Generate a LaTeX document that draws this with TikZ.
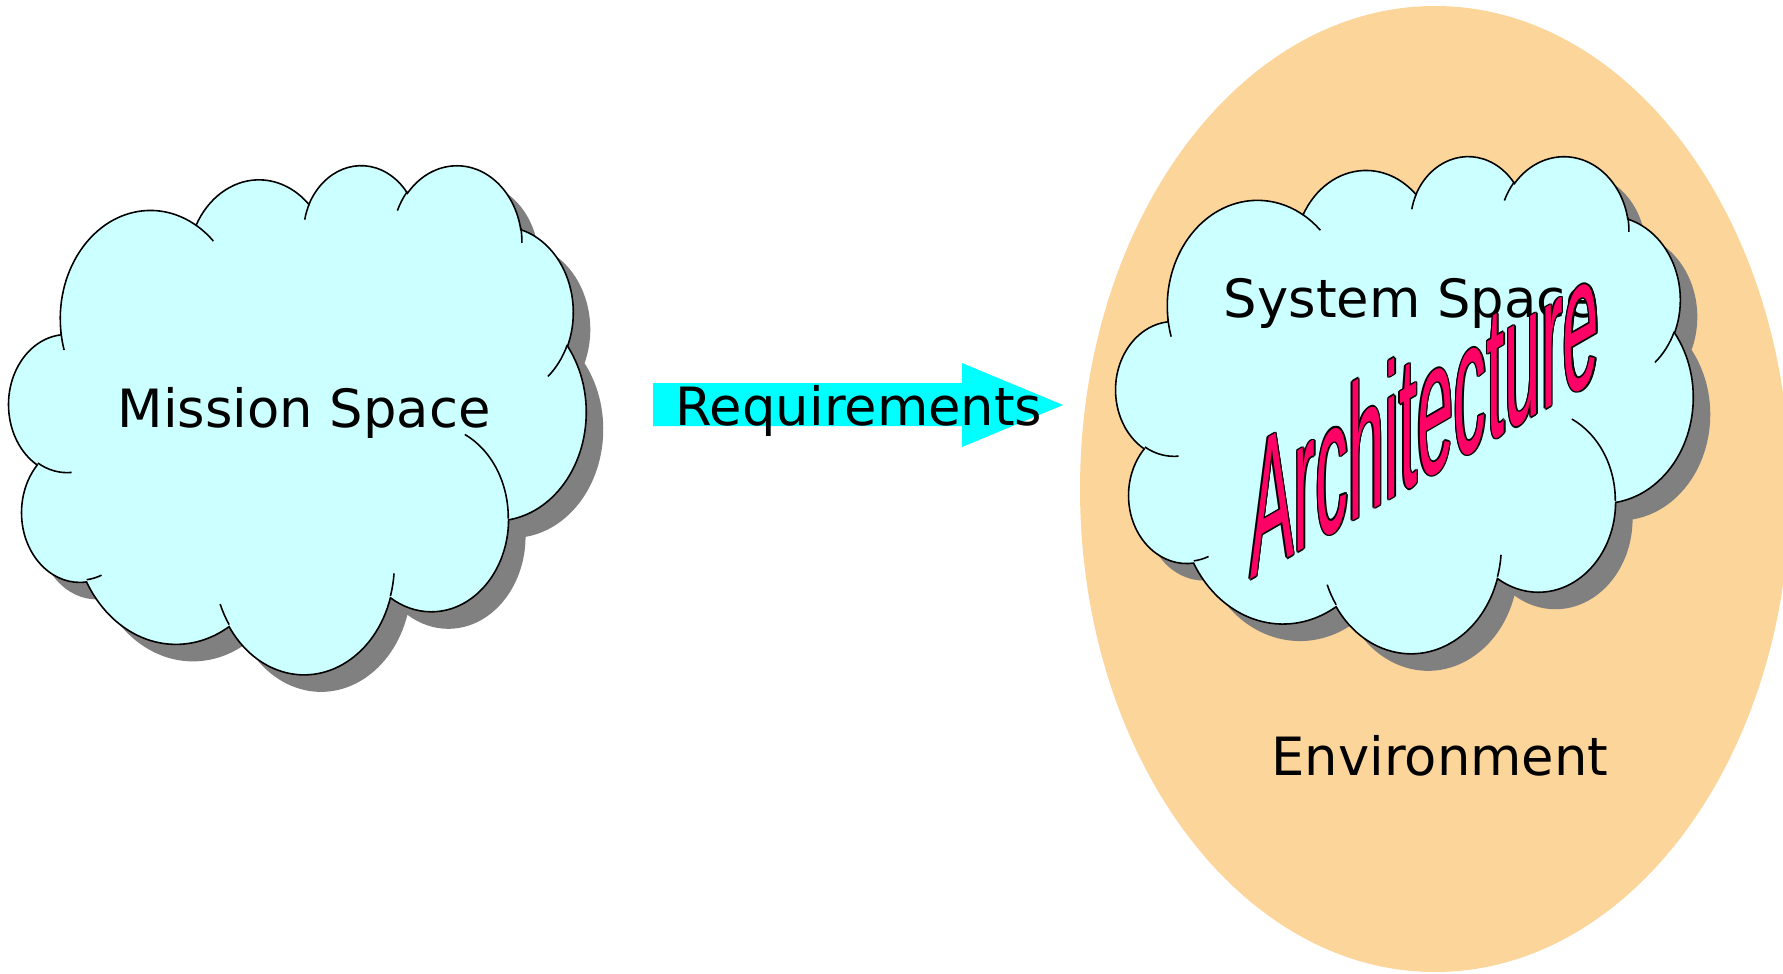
\documentclass[tikz,border=0pt]{standalone}
\usepackage{fontspec}
\setmainfont{DejaVu Sans}
\newfontfamily\archfont{Liberation Sans}

\definecolor{cloudfill}{HTML}{CCFFFF}
\definecolor{cloudshade}{HTML}{808080}
\definecolor{envfill}{HTML}{FCD59A}
\definecolor{reqarrow}{HTML}{00FFFF}
\definecolor{archpink}{HTML}{FF0066}

% Elliptical arc given by radii, start angle and sweep (angles measured
% along the ray from the centre, converted to TikZ's parametric angles).
\newcommand\cloudarc[4]{%
  \pgfextra{%
    \pgfmathsetmacro\cA{atan2((#1)*sin(#3),(#2)*cos(#3))}%
    \pgfmathsetmacro\cB{atan2((#1)*sin(#3+#4),(#2)*cos(#3+#4))}%
    \pgfmathsetmacro\cB{\cB<\cA ? \cB+360 : \cB}%
    \global\let\cloudA\cA\global\let\cloudB\cB}%
  arc[start angle=\cloudA, end angle=\cloudB, x radius=#1, y radius=#2]}

% Cloud outline on a 43.2 x 43.2 grid (y downwards)
\newcommand\cloudoutline{(3.900,14.370)
  \cloudarc{6.753}{9.190}{-190.4875}{123.7805}
  \cloudarc{5.333}{7.267}{-144.1024}{89.9452}
  \cloudarc{4.365}{5.945}{-145.8079}{99.7230}
  \cloudarc{4.857}{6.595}{-130.9861}{117.2417}
  \cloudarc{5.333}{7.273}{-78.7089}{109.0269}
  \cloudarc{6.775}{9.220}{-46.2673}{130.2690}
  \cloudarc{5.785}{7.867}{0.6250}{114.0333}
  \cloudarc{6.752}{9.215}{22.4516}{115.1726}
  \cloudarc{7.720}{10.543}{66.2426}{75.7110}
  \cloudarc{4.360}{5.918}{-274.9421}{146.7356}
  \cloudarc{4.345}{5.945}{-246.8285}{152.5189}
  -- cycle}

% Short inner strokes between the puffs
\newcommand\cloudinner{%
  (4.693,26.177) \cloudarc{4.345}{5.945}{86.7420}{26.4295}
  (6.928,34.899) \cloudarc{4.360}{5.918}{73.6105}{11.4475}
  (16.478,39.090) \cloudarc{6.752}{9.215}{137.6242}{14.0811}
  (28.827,34.751) \cloudarc{6.752}{9.215}{6.4533}{15.9984}
  (34.129,22.954) \cloudarc{5.785}{7.867}{-70.2924}{70.9174}
  (41.798,15.354) \cloudarc{5.333}{7.273}{30.3180}{27.7515}
  (38.324,5.426) \cloudarc{4.857}{6.595}{-13.7443}{14.8589}
  (29.078,3.952) \cloudarc{4.857}{6.595}{-149.1815}{18.1954}
  (22.141,4.720) \cloudarc{4.365}{5.945}{-163.4943}{17.6864}
  (14.000,5.192) \cloudarc{6.753}{9.190}{-66.7070}{12.3194}
  (4.127,15.789) \cloudarc{6.753}{9.190}{157.6544}{11.8582}}

% cloud with drop shadow: x0, y0, width, height
\newcommand\drawcloud[4]{%
  \begin{scope}[shift={(#1+17,#2+17)}, xscale=#3/43.2, yscale=#4/43.2]
    \fill[cloudshade] \cloudoutline;
  \end{scope}
  \begin{scope}[shift={(#1,#2)}, xscale=#3/43.2, yscale=#4/43.2]
    \filldraw[cloudline] \cloudoutline;
    \draw[cloudstroke] \cloudinner;
  \end{scope}}

\tikzset{
  cloudline/.style={fill=cloudfill, draw=black, line width=0.45pt},
  cloudstroke/.style={draw=black, line width=0.45pt},
  lbl/.style={font=\fontsize{15}{18}\selectfont, inner sep=0pt, anchor=base},
  archtext/.style={font=\archfont\fontsize{54.4}{60}\selectfont, inner sep=0pt,
    anchor=base west, yslant=0.578, xscale=0.342, transform shape},
}

\begin{document}
\begin{tikzpicture}[x=0.01cm, y=-0.01cm]
  \useasboundingbox (0,0) rectangle (1783,973);

  % environment
  \fill[envfill] (1435,489) ellipse[x radius=355, y radius=483];

  % mission space
  \drawcloud{9}{164}{577}{509}
  \node[lbl] (mission) at (304,427) {Mission Space};

  % requirements arrow
  \fill[reqarrow] (653,383) -- (962,383) -- (962,363) -- (1063,405)
    -- (962,447) -- (962,426) -- (653,426) -- cycle;
  \node[lbl] (req) at (859,425) {Requirements};

  % system space
  \drawcloud{1116}{155}{577}{497}
  \node[lbl] (system) at (1411,317) {System Space};

  % word art
  \foreach \dx/\dy [count=\k] in {1.5/0,-1.5/0,0/1.5,0/-1.5,1.06/1.06,-1.06/1.06,1.06/-1.06,-1.06/-1.06}{
    \begin{scope}[shift={(1250+\dx,580+\dy)}]
      \node[archtext, text=black] (archrim\k) at (0,0) {Architecture};
    \end{scope}
  }
  \begin{scope}[shift={(1250,580)}]
    \node[archtext, text=archpink] (arch) at (0,0) {Architecture};
  \end{scope}

  \node[lbl] (env) at (1440,775) {Environment};
\end{tikzpicture}
\end{document}
